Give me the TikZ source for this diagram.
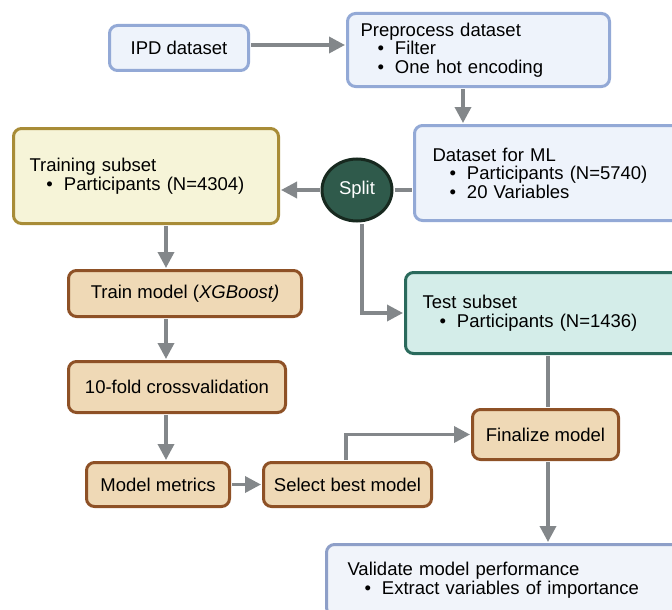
\documentclass[tikz,border=0pt]{standalone}
\usepackage{fontspec}
\setmainfont{Liberation Sans}
\usetikzlibrary{arrows.meta,shapes.geometric}
\definecolor{bluefill}{HTML}{EEF3FB}
\definecolor{blueline}{HTML}{93A9D6}
\definecolor{valfill}{HTML}{F1F4FA}
\definecolor{valline}{HTML}{8E9FC8}
\definecolor{trfill}{HTML}{F6F4D8}
\definecolor{trline}{HTML}{A88C37}
\definecolor{splitfill}{HTML}{2F5A4B}
\definecolor{splitline}{HTML}{17291F}
\definecolor{testfill}{HTML}{D4EDE9}
\definecolor{testline}{HTML}{2A6A5C}
\definecolor{brfill}{HTML}{EFD9B6}
\definecolor{brline}{HTML}{8E5126}
\definecolor{arrgray}{HTML}{83878A}
\newcommand\fs{\fontsize{18.5}{18.5}\selectfont}
\newcommand\bitem[1]{\hspace*{17pt}\textbullet\hspace{11pt}#1}
\tikzset{
  box/.style={draw, rounded corners=8pt, line width=3pt, anchor=north west, font=\fs, inner ysep=0pt},
  bluebox/.style={box, fill=bluefill, draw=blueline},
  valbox/.style={box, fill=valfill, draw=valline},
  trbox/.style={box, fill=trfill, draw=trline},
  testbox/.style={box, fill=testfill, draw=testline},
  brbox/.style={box, fill=brfill, draw=brline, align=center},
  arr/.style={draw=arrgray, line width=3.5pt, -{Triangle[length=16pt,width=16pt]}, shorten >=1pt, shorten <=1pt},
  link/.style={draw=arrgray, line width=3.5pt, shorten >=1pt, shorten <=1pt},
}
\begin{document}
\begin{tikzpicture}[x=1pt,y=-1pt]
\useasboundingbox (0,0) rectangle (672,610);
\clip (0,0) rectangle (672,610);
% nodes
\node[bluebox, align=center, minimum width=139pt, minimum height=45pt] (ipd) at (108,24) {IPD dataset};
\node[bluebox, align=left, minimum width=262pt, minimum height=73pt, inner xsep=13pt, text width=236pt] (pre) at (346,12)
  {Preprocess dataset\\\bitem{Filter}\\\bitem{One hot encoding}};
\node[bluebox, align=left, minimum width=300pt, minimum height=95pt, inner xsep=18pt, text width=264pt] (data) at (413,124)
  {Dataset for ML\\\bitem{Participants (N=5740)}\\\bitem{20 Variables}};
\node[trbox, align=left, minimum width=265pt, minimum height=95pt, inner xsep=16pt, text width=233pt] (train) at (12,127)
  {Training subset\\\bitem{Participants (N=4304)}};
\node[draw=splitline, fill=splitfill, line width=3pt, ellipse, minimum width=70pt, minimum height=62pt, inner sep=0pt, text=white, font=\fs] (split) at (357,190) {Split};
\node[testbox, align=left, minimum width=300pt, minimum height=81pt, inner xsep=17pt, text width=266pt] (test) at (404,271)
  {Test subset\\\bitem{Participants (N=1436)}};
\node[brbox, minimum width=233pt, minimum height=46pt] (tm) at (67,269) {Train model (\textit{XGBoost)}};
\node[brbox, minimum width=217pt, minimum height=51pt] (cv) at (67,360) {10-fold crossvalidation};
\node[brbox, minimum width=143pt, minimum height=44pt] (met) at (85,461) {Model metrics};
\node[brbox, minimum width=168pt, minimum height=44pt] (sel) at (262,461) {Select best model};
\node[brbox, minimum width=146pt, minimum height=50pt] (fin) at (471,408) {Finalize model};
\node[valbox, align=left, minimum width=400pt, minimum height=71pt, inner xsep=21pt, text width=358pt] (val) at (325,543)
  {Validate model performance\\\bitem{Extract variables of importance}};
% guide coordinates
\coordinate (x166) at (166,0);
\coordinate (x463) at (463,0);
\coordinate (x362) at (362,0);
\coordinate (x548) at (548,0);
\coordinate (x346) at (346,0);
\coordinate (y45) at (0,45);
% connectors
\draw[arr] (ipd.east |- y45) -- (pre.west |- y45);
\draw[arr] (pre.south -| x463) -- (data.north -| x463);
\draw[link] (split.east) -- (split.east -| data.west);
\draw[arr] (split.west) -- (split.west -| train.east);
\draw[arr] (split.south -| x362) |- (test.west);
\draw[arr] (train.south -| x166) -- (tm.north -| x166);
\draw[arr] (tm.south -| x166) -- (cv.north -| x166);
\draw[arr] (cv.south -| x166) -- (met.north -| x166);
\draw[arr] (met.east) -- (sel.west);
\draw[arr] (sel.north -| x346) |- (fin.west);
\draw[link] (test.south -| x548) -- (fin.north -| x548);
\draw[arr] (fin.south -| x548) -- (val.north -| x548);
\end{tikzpicture}
\end{document}
